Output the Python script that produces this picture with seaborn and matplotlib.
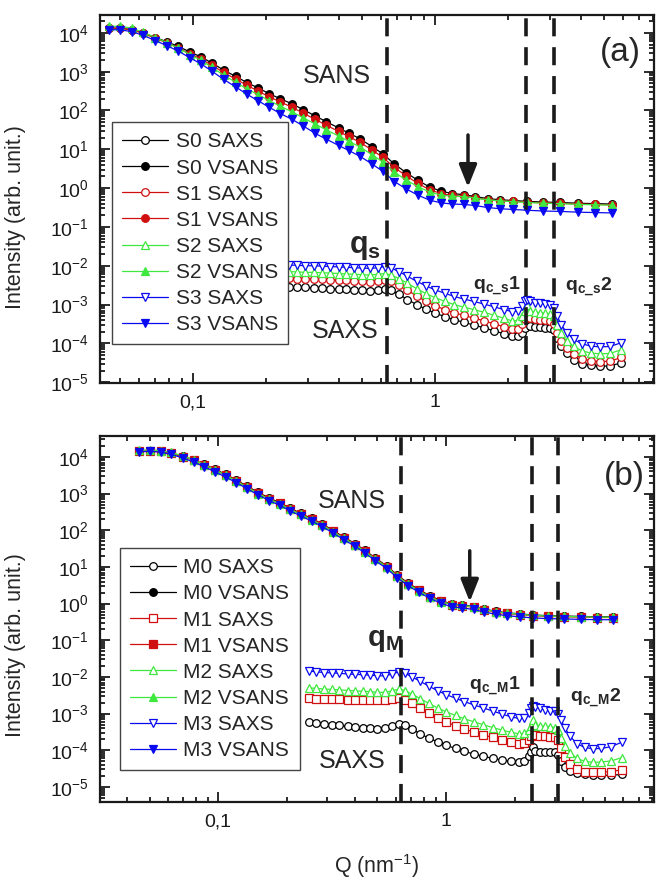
import numpy as np
import pandas as pd
import seaborn as sns
import matplotlib.pyplot as plt
from matplotlib.ticker import (FixedLocator, FixedFormatter, LogLocator,
                               NullFormatter)

# ---- data (q in nm^-1, intensity as log10) ----
q_sans = [0.045, 0.05, 0.056, 0.062, 0.07, 0.078, 0.087, 0.097, 0.108, 0.12,
          0.134, 0.15, 0.167, 0.186, 0.207, 0.23, 0.257, 0.286, 0.32, 0.356,
          0.4, 0.44, 0.49, 0.55, 0.61, 0.68, 0.76, 0.85, 0.95, 1.06,
          1.18, 1.32, 1.47, 1.65, 1.85, 2.1, 2.4, 2.8, 3.3, 3.9,
          4.6, 5.4]
q_saxs = [0.25, 0.27, 0.29, 0.315, 0.34, 0.37, 0.40, 0.43, 0.465, 0.50,
          0.54, 0.58, 0.62, 0.66, 0.71, 0.77, 0.84, 0.92, 1.0, 1.1,
          1.2, 1.32, 1.45, 1.6, 1.76, 1.93, 2.08, 2.2, 2.3, 2.36,
          2.4, 2.46, 2.58, 2.72, 2.86, 3.0, 3.1, 3.2, 3.33, 3.5,
          3.75, 4.05, 4.4, 4.8, 5.3, 5.9]

# panel (a)
a_s0_vsans = [4.12, 4.12, 4.08, 4.00, 3.88, 3.77, 3.65, 3.51, 3.38, 3.22,
              3.04, 2.88, 2.72, 2.58, 2.43, 2.30, 2.17, 2.02, 1.86, 1.71,
              1.55, 1.42, 1.27, 1.07, 0.88, 0.62, 0.40, 0.20, 0.03, -0.08,
              -0.14, -0.17, -0.22, -0.27, -0.30, -0.32, -0.34, -0.36, -0.37, -0.39,
              -0.40, -0.41]
a_s1_vsans = [4.12, 4.12, 4.08, 3.99, 3.86, 3.74, 3.61, 3.46, 3.33, 3.16,
              2.98, 2.81, 2.65, 2.50, 2.35, 2.22, 2.08, 1.93, 1.77, 1.62,
              1.46, 1.33, 1.18, 0.98, 0.79, 0.53, 0.32, 0.12, -0.04, -0.14,
              -0.19, -0.21, -0.25, -0.30, -0.33, -0.34, -0.36, -0.38, -0.39, -0.41,
              -0.42, -0.43]
a_s2_vsans = [4.17, 4.17, 4.12, 4.02, 3.88, 3.75, 3.61, 3.44, 3.29, 3.11,
              2.91, 2.73, 2.56, 2.41, 2.25, 2.11, 1.96, 1.81, 1.65, 1.50,
              1.34, 1.21, 1.06, 0.86, 0.67, 0.41, 0.21, 0.04, -0.10, -0.18,
              -0.21, -0.22, -0.26, -0.30, -0.33, -0.35, -0.37, -0.39, -0.40, -0.42,
              -0.43, -0.44]
a_s3_vsans = [4.08, 4.08, 4.03, 3.94, 3.80, 3.67, 3.53, 3.36, 3.20, 3.01,
              2.80, 2.61, 2.42, 2.25, 2.08, 1.92, 1.77, 1.60, 1.41, 1.26,
              1.10, 0.97, 0.82, 0.62, 0.43, 0.17, -0.02, -0.18, -0.31, -0.38,
              -0.41, -0.42, -0.45, -0.50, -0.53, -0.55, -0.57, -0.59, -0.60, -0.62,
              -0.63, -0.64]
a_s0_saxs = [-2.54, -2.55, -2.56, -2.57, -2.58, -2.59, -2.60, -2.61, -2.62, -2.63,
             -2.64, -2.62, -2.59, -2.63, -2.74, -2.87, -3.00, -3.12, -3.22, -3.31,
             -3.39, -3.46, -3.53, -3.60, -3.68, -3.75, -3.80, -3.80, -3.72, -3.60,
             -3.38, -3.56, -3.58, -3.59, -3.60, -3.61, -3.66, -3.86, -4.07, -4.26,
             -4.42, -4.52, -4.57, -4.59, -4.58, -4.50]
a_s1_saxs = [-2.32, -2.33, -2.34, -2.34, -2.35, -2.36, -2.37, -2.38, -2.39, -2.40,
             -2.41, -2.39, -2.36, -2.40, -2.50, -2.63, -2.78, -2.92, -3.03, -3.13,
             -3.21, -3.28, -3.35, -3.42, -3.50, -3.57, -3.63, -3.62, -3.50, -3.37,
             -3.18, -3.35, -3.38, -3.40, -3.41, -3.43, -3.50, -3.72, -3.93, -4.12,
             -4.28, -4.39, -4.45, -4.47, -4.46, -4.36]
a_s2_saxs = [-2.15, -2.16, -2.17, -2.17, -2.18, -2.19, -2.20, -2.21, -2.22, -2.23,
             -2.24, -2.22, -2.20, -2.24, -2.33, -2.45, -2.59, -2.72, -2.82, -2.92,
             -3.00, -3.07, -3.13, -3.20, -3.28, -3.35, -3.42, -3.41, -3.30, -3.17,
             -3.02, -3.16, -3.19, -3.21, -3.22, -3.24, -3.30, -3.52, -3.74, -3.94,
             -4.08, -4.19, -4.25, -4.27, -4.26, -4.16]
a_s3_saxs = [-1.98, -1.99, -2.00, -2.00, -2.01, -2.02, -2.03, -2.04, -2.05, -2.06,
             -2.07, -2.05, -2.02, -2.06, -2.15, -2.27, -2.40, -2.52, -2.62, -2.71,
             -2.79, -2.86, -2.92, -2.99, -3.06, -3.13, -3.18, -3.17, -3.03, -2.91,
             -2.89, -2.92, -2.95, -2.97, -2.98, -3.00, -3.08, -3.30, -3.52, -3.72,
             -3.90, -4.01, -4.07, -4.09, -4.08, -3.98]

# panel (b)
b_m0_vsans = [4.16, 4.17, 4.15, 4.10, 4.02, 3.92, 3.80, 3.66, 3.52, 3.37,
              3.20, 3.03, 2.88, 2.75, 2.60, 2.46, 2.32, 2.17, 1.99, 1.81,
              1.63, 1.45, 1.24, 1.02, 0.78, 0.56, 0.38, 0.21, 0.08, -0.01,
              -0.04, -0.08, -0.15, -0.21, -0.25, -0.28, -0.31, -0.33, -0.34, -0.35,
              -0.36, -0.36]
b_m1_vsans = [4.16, 4.17, 4.15, 4.10, 4.01, 3.91, 3.78, 3.64, 3.50, 3.35,
              3.18, 3.01, 2.86, 2.73, 2.58, 2.44, 2.30, 2.15, 1.97, 1.79,
              1.61, 1.43, 1.22, 1.00, 0.76, 0.54, 0.36, 0.19, 0.06, -0.03,
              -0.06, -0.10, -0.17, -0.23, -0.27, -0.30, -0.33, -0.35, -0.36, -0.37,
              -0.38, -0.38]
b_m2_vsans = [4.18, 4.19, 4.17, 4.12, 4.03, 3.92, 3.79, 3.64, 3.50, 3.34,
              3.17, 3.00, 2.85, 2.72, 2.57, 2.43, 2.29, 2.14, 1.96, 1.78,
              1.60, 1.42, 1.21, 0.99, 0.75, 0.53, 0.35, 0.18, 0.05, -0.02,
              -0.05, -0.09, -0.16, -0.22, -0.26, -0.29, -0.32, -0.34, -0.35, -0.36,
              -0.37, -0.37]
b_m3_vsans = [4.14, 4.15, 4.13, 4.07, 3.97, 3.86, 3.73, 3.59, 3.45, 3.30,
              3.13, 2.96, 2.81, 2.68, 2.53, 2.39, 2.25, 2.10, 1.92, 1.74,
              1.56, 1.38, 1.17, 0.95, 0.71, 0.49, 0.31, 0.14, 0.01, -0.09,
              -0.12, -0.16, -0.23, -0.29, -0.33, -0.36, -0.39, -0.41, -0.42, -0.43,
              -0.44, -0.44]
b_m0_saxs = [-3.22, -3.25, -3.28, -3.30, -3.32, -3.35, -3.37, -3.39, -3.40, -3.41,
             -3.40, -3.34, -3.28, -3.32, -3.42, -3.55, -3.67, -3.77, -3.86, -3.95,
             -4.03, -4.10, -4.16, -4.22, -4.27, -4.30, -4.31, -4.28, -4.15, -4.05,
             -3.92, -4.03, -4.04, -4.05, -4.05, -4.06, -4.12, -4.30, -4.45, -4.56,
             -4.62, -4.65, -4.67, -4.68, -4.68, -4.66]
b_m1_saxs = [-2.58, -2.59, -2.60, -2.60, -2.61, -2.62, -2.62, -2.63, -2.63, -2.64,
             -2.64, -2.61, -2.58, -2.62, -2.72, -2.85, -2.99, -3.12, -3.23, -3.33,
             -3.42, -3.50, -3.58, -3.65, -3.72, -3.78, -3.82, -3.81, -3.72, -3.62,
             -3.42, -3.59, -3.61, -3.62, -3.63, -3.65, -3.72, -3.95, -4.18, -4.38,
             -4.52, -4.58, -4.60, -4.60, -4.58, -4.53]
b_m2_saxs = [-2.30, -2.31, -2.33, -2.34, -2.35, -2.37, -2.38, -2.39, -2.40, -2.42,
             -2.42, -2.38, -2.33, -2.37, -2.47, -2.59, -2.72, -2.85, -2.95, -3.05,
             -3.14, -3.22, -3.30, -3.38, -3.45, -3.51, -3.55, -3.54, -3.44, -3.33,
             -3.18, -3.31, -3.33, -3.35, -3.36, -3.38, -3.45, -3.66, -3.88, -4.07,
             -4.22, -4.30, -4.33, -4.32, -4.29, -4.20]
b_m3_saxs = [-1.84, -1.86, -1.88, -1.89, -1.90, -1.92, -1.93, -1.94, -1.95, -1.97,
             -1.97, -1.92, -1.86, -1.90, -2.00, -2.12, -2.25, -2.38, -2.48, -2.58,
             -2.67, -2.76, -2.84, -2.93, -3.01, -3.09, -3.13, -3.12, -2.98, -2.84,
             -2.80, -2.82, -2.86, -2.90, -2.92, -2.94, -3.00, -3.18, -3.40, -3.62,
             -3.82, -3.92, -3.96, -3.95, -3.90, -3.78]

q_lines = [0.635, 2.38, 3.1]   # dashed markers qs, qc1, qc2
y_decades = [1e-5, 1e-4, 1e-3, 1e-2, 1e-1, 1e0, 1e1, 1e2, 1e3, 1e4]

BLACK, RED, GREEN, BLUE = '#000000', '#d01010', '#3ee83e', '#0a0af0'

series_a = [
    ('S0 SAXS',  q_saxs, a_s0_saxs,  BLACK, 'o', False),
    ('S0 VSANS', q_sans, a_s0_vsans, BLACK, 'o', True),
    ('S1 SAXS',  q_saxs, a_s1_saxs,  RED,   'o', False),
    ('S1 VSANS', q_sans, a_s1_vsans, RED,   'o', True),
    ('S2 SAXS',  q_saxs, a_s2_saxs,  GREEN, '^', False),
    ('S2 VSANS', q_sans, a_s2_vsans, GREEN, '^', True),
    ('S3 SAXS',  q_saxs, a_s3_saxs,  BLUE,  'v', False),
    ('S3 VSANS', q_sans, a_s3_vsans, BLUE,  'v', True),
]
series_b = [
    ('M0 SAXS',  q_saxs, b_m0_saxs,  BLACK, 'o', False),
    ('M0 VSANS', q_sans, b_m0_vsans, BLACK, 'o', True),
    ('M1 SAXS',  q_saxs, b_m1_saxs,  RED,   's', False),
    ('M1 VSANS', q_sans, b_m1_vsans, RED,   's', True),
    ('M2 SAXS',  q_saxs, b_m2_saxs,  GREEN, '^', False),
    ('M2 VSANS', q_sans, b_m2_vsans, GREEN, '^', True),
    ('M3 SAXS',  q_saxs, b_m3_saxs,  BLUE,  'v', False),
    ('M3 VSANS', q_sans, b_m3_vsans, BLUE,  'v', True),
]

sns.set_theme(style='ticks')
plt.rcParams['font.family'] = ['Liberation Sans', 'DejaVu Sans']
plt.rcParams['mathtext.fontset'] = 'custom'
plt.rcParams['mathtext.rm'] = 'Liberation Sans'
plt.rcParams['mathtext.it'] = 'Liberation Sans:italic'
plt.rcParams['mathtext.bf'] = 'Liberation Sans:bold'

fig = plt.figure(figsize=(6.63, 8.82), dpi=100)
ax_a = fig.add_axes([0.1508, 0.5658, 0.8356, 0.4172])
ax_b = fig.add_axes([0.1508, 0.0907, 0.8356, 0.4150])


def draw(ax, series):
    ax.set(xscale='log', yscale='log')
    for name, q, logI, col, mk, filled in series:
        df = pd.DataFrame({'q': q, 'I': np.power(10.0, logI)})
        sns.lineplot(data=df, x='q', y='I', ax=ax, estimator=None, sort=False,
                     color=col, lw=0.9, marker=mk, markersize=5.5,
                     markerfacecolor=col if filled else 'white',
                     markeredgecolor=col, markeredgewidth=0.9, label=name)
    for qv in q_lines:
        ax.axvline(qv, color='k', lw=2.6, ls=(0, (5, 3)), zorder=5)


draw(ax_a, series_a)
draw(ax_b, series_b)

ax_a.set_xlim(0.0413, 8.04)
ax_a.set_ylim(10 ** -5.02, 10 ** 4.46)
ax_b.set_xlim(0.0303, 8.17)
ax_b.set_ylim(10 ** -5.41, 10 ** 4.57)

for ax, ylab_y in ((ax_a, 0.45), (ax_b, 0.43)):
    ax.xaxis.set_major_locator(FixedLocator([0.1, 1]))
    ax.xaxis.set_major_formatter(FixedFormatter(['0,1', '1']))
    ax.xaxis.set_minor_locator(LogLocator(base=10, subs=np.arange(2, 10), numticks=30))
    ax.xaxis.set_minor_formatter(NullFormatter())
    ax.yaxis.set_major_locator(FixedLocator(y_decades))
    ax.yaxis.set_minor_locator(LogLocator(base=10, subs=np.arange(2, 10), numticks=30))
    ax.yaxis.set_minor_formatter(NullFormatter())
    ax.tick_params(which='both', direction='in', top=True, right=True,
                   width=1.3, colors='k')
    ax.tick_params(which='major', length=7, labelsize=14, pad=8)
    ax.tick_params(which='minor', length=3.5)
    for s in ax.spines.values():
        s.set_linewidth(1.6)
        s.set_color('k')
    ax.set_xlabel('')
    ax.set_ylabel('Intensity (arb. unit.)', fontsize=15.5)
    ax.yaxis.set_label_coords(-0.134, ylab_y)

ax_b.set_xlabel('Q (nm$^{-1}$)', fontsize=15.5)
ax_b.xaxis.set_label_coords(0.5, -0.137)

# legends
for ax, anchor in ((ax_a, (0.0217, 0.709)), (ax_b, (0.036, 0.694))):
    leg = ax.legend(loc='upper left', bbox_to_anchor=anchor, borderaxespad=0,
                    fontsize=15, frameon=True, fancybox=False, edgecolor='#444444',
                    framealpha=1, handlelength=2.2, handletextpad=0.35,
                    labelspacing=0.34, borderpad=0.5)
    leg.get_frame().set_linewidth(1.0)

# annotations panel (a)
ax_a.text(0.394, 776, 'SANS', fontsize=18, ha='center', va='center')
ax_a.text(0.425, 2.1e-4, 'SAXS', fontsize=18, ha='center', va='center')
ax_a.text(0.94, 0.899, '(a)', fontsize=24, ha='center', va='center',
          transform=ax_a.transAxes)
ax_a.text(0.514, 0.030, r'$\mathbf{q_s}$', fontsize=22, ha='center', va='center')
ax_a.text(1.81, 3.0e-3, r'$\mathbf{q_{c\_s}1}$', fontsize=14, ha='center', va='center')
ax_a.text(4.30, 2.8e-3, r'$\mathbf{q_{c\_s}2}$', fontsize=14, ha='center', va='center')
ax_a.annotate('', xy=(1.37, 1.06), xytext=(1.37, 23.4),
              arrowprops=dict(arrowstyle='-|>,head_length=0.75,head_width=0.3',
                              color='k', lw=2.5, shrinkA=0, shrinkB=0,
                              mutation_scale=18))

# annotations panel (b)
ax_b.text(0.386, 630, 'SANS', fontsize=18, ha='center', va='center')
ax_b.text(0.386, 5.2e-5, 'SAXS', fontsize=18, ha='center', va='center')
ax_b.text(0.946, 0.888, '(b)', fontsize=24, ha='center', va='center',
          transform=ax_b.transAxes)
ax_b.text(0.54, 0.102, r'$\mathbf{q_M}$', fontsize=21, ha='center', va='center')
ax_b.text(1.64, 5.4e-3, r'$\mathbf{q_{c\_M}1}$', fontsize=14, ha='center', va='center')
ax_b.text(4.54, 2.6e-3, r'$\mathbf{q_{c\_M}2}$', fontsize=14, ha='center', va='center')
ax_b.annotate('', xy=(1.27, 1.12), xytext=(1.27, 27.5),
              arrowprops=dict(arrowstyle='-|>,head_length=0.75,head_width=0.3',
                              color='k', lw=2.5, shrinkA=0, shrinkB=0,
                              mutation_scale=18))

fig.savefig('out.png', dpi=100, facecolor='white')
